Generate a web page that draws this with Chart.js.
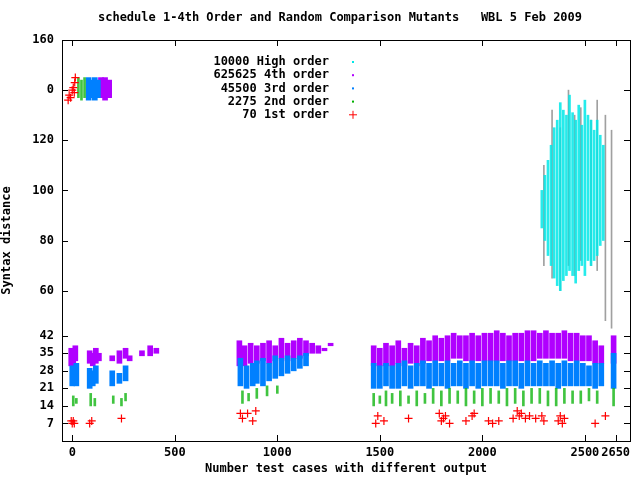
<!DOCTYPE html>
<html><head><meta charset="utf-8">
<script src="https://cdn.jsdelivr.net/npm/chart.js@4/dist/chart.umd.min.js"></script>
<style>html,body{margin:0;background:#fff}#c{width:640px;height:480px}</style>
</head><body><div id="c"><canvas id="cv" width="640" height="480"></canvas></div>
<script>
const title = "schedule 1-4th Order and Random Comparison Mutants   WBL 5 Feb 2009";
const xTicks = [0,500,1000,1500,2000,2500,2650];
const yTicks = [7,14,21,28,35,42,60,80,100,120,140,160];
const yTickLabels = {140:"0"};
const legendLabels = ["10000 High order","625625 4th order","45500 3rd order","2275 2nd order","70 1st order"];

// strips: x, low, high
const highX  = [2290,2305,2320,2335,2350,2365,2380,2395,2410,2425,2440,2455,2470,2485,2500,2515,2530,2545,2560,2575,2590];
const highLo = [85,80,74,70,65,62,60,64,66,68,66,63,68,70,66,72,70,72,74,78,80];
const highHi = [100,106,112,118,125,128,135,132,130,138,131,128,134,126,136,130,128,124,128,122,118];
const grayX  = [2300,2340,2380,2420,2450,2480,2530,2560,2600,2630];
const grayLo = [70,65,60,70,66,72,70,68,48,45];
const grayHi = [110,132,125,140,130,133,128,136,130,124];

const p4X  = [-5,5,15,85,100,115,130,195,230,260,280,340,380,410,815,840,870,900,930,960,990,1020,1050,1080,1110,1140,1170,1200,1230,1260,
  1470,1500,1530,1560,1590,1620,1650,1680,1710,1740,1770,1800,1830,1860,1890,1920,1950,1980,2010,2040,2070,2100,2130,2160,2190,2220,2250,2280,2310,2340,2370,2400,2430,2460,2490,2520,2550,2580,2640,140,160,180];
const p4Lo = [30,31,32,31,30,31,32,32,31,33,32,34,34,35,30,30,31,31,32,31,32,33,32,33,33,34,35,35,36,38,
  30,30,30,30,31,30,31,30,31,32,32,32,32,33,33,32,32,32,32,32,32,32,32,32,32,32,32,33,33,33,33,33,32,32,32,32,31,31,31,137,136,137];
const p4Hi = [37,36,38,36,35,37,35,34,36,37,34,36,38,37,40,38,39,38,39,40,38,41,39,40,41,40,39,38,37,39,
  38,37,39,38,40,37,39,38,41,40,42,41,42,43,42,42,43,42,43,43,44,43,42,43,43,44,44,43,44,43,43,44,43,43,42,42,40,38,42,145,145,144];
const p3X  = [0,10,20,85,100,115,195,230,260,820,850,880,900,930,960,990,1020,1050,1080,1110,1140,
  1470,1500,1530,1560,1590,1620,1650,1680,1710,1740,1770,1800,1830,1860,1890,1920,1950,1980,2010,2040,2070,2100,2130,2160,2190,2220,2250,2280,2310,2340,2370,2400,2430,2460,2490,2520,2550,2580,2640,80,95,110,125];
const p3Lo = [22,23,22,21,22,23,22,23,24,22,21,22,23,22,24,25,26,27,28,29,30,
  21,21,22,21,21,22,21,22,22,21,22,22,21,22,22,21,22,21,22,22,22,21,22,22,21,22,22,22,22,22,21,22,22,22,22,22,21,22,21,136,137,136,137];
const p3Hi = [30,29,31,29,28,30,28,27,30,33,30,31,32,33,31,34,33,34,33,34,35,
  31,30,31,30,31,32,30,31,32,31,32,31,32,31,32,31,32,31,32,32,32,31,32,32,31,32,31,32,31,32,31,32,31,32,31,30,31,31,35,145,144,145,144];
const p2X  = [5,20,90,110,200,240,260,830,860,900,950,1000,
  1470,1500,1530,1560,1600,1640,1680,1720,1760,1800,1840,1880,1920,1960,2000,2040,2080,2120,2160,2200,2240,2280,2320,2360,2400,2440,2480,2520,2560,2640,30,45,60];
const p2Lo = [14,15,14,14,15,14,16,15,16,17,18,19,
  14,15,14,15,14,15,14,15,15,14,15,15,14,15,14,15,15,14,15,14,15,15,14,14,15,15,15,16,15,14,137,136,137];
const p2Hi = [18,17,19,17,18,17,19,20,19,21,22,22,
  19,18,20,19,20,18,20,19,21,20,21,20,21,20,21,21,20,21,21,20,21,21,20,21,21,20,20,21,20,21,145,144,145];

const redX = [-20,-15,-8,0,5,10,12,15,-5,0,5,10,85,95,240,820,830,855,880,895,1480,1490,1520,1640,1790,1800,1810,1820,1840,1920,1950,1960,2030,2050,2080,2150,2170,2180,2190,2210,2230,2260,2290,2300,2370,2380,2390,2400,2550,2600];
const redY = [136,138,137,140,141,139,143,145,8,7,8,7,7,8,9,11,9,11,8,12,7,10,8,9,11,8,9,10,7,8,10,11,8,7,8,9,12,10,11,9,10,9,10,8,8,10,7,9,7,10];

function strips(xs,lo,hi){return xs.map((x,i)=>({x:x,y:[lo[i],hi[i]]}));}
const mono = "bold 12px 'DejaVu Sans Mono', 'Liberation Mono', monospace";
const colors = ["#00e8e8","#b000ff","#0080ff","#00b000","#ff0000"];

const deco = {
  id:'deco',
  afterDraw(ch){
    const c=ch.ctx, a=ch.chartArea, xs=ch.scales.x, ys=ch.scales.y;
    c.save();
    c.strokeStyle='#000'; c.lineWidth=1;
    c.strokeRect(a.left+0.5,a.top+0.5,a.right-a.left,a.bottom-a.top);
    c.beginPath();
    xTicks.forEach(v=>{const p=Math.round(xs.getPixelForValue(v))+0.5;
      c.moveTo(p,a.bottom);c.lineTo(p,a.bottom-6);c.moveTo(p,a.top);c.lineTo(p,a.top+6);});
    yTicks.forEach(v=>{const p=Math.round(ys.getPixelForValue(v))+0.5;
      c.moveTo(a.left,p);c.lineTo(a.left+6,p);c.moveTo(a.right,p);c.lineTo(a.right-6,p);});
    c.stroke();
    c.fillStyle='#000'; c.font=mono; c.textBaseline='middle';
    c.textAlign='center'; c.fillText(title,340,18);
    c.textAlign='right';
    legendLabels.forEach((t,i)=>{
      const y=62+i*13.2;
      c.fillText(t,329,y);
      c.fillStyle=colors[i]; c.strokeStyle=colors[i];
      if(i===4){c.beginPath();c.moveTo(349,y);c.lineTo(357,y);c.moveTo(353,y-4);c.lineTo(353,y+4);c.stroke();}
      else c.fillRect(352,y-1,2,2);
      c.fillStyle='#000';
    });
    c.restore();
  }
};

function bar(label,data,color,th){return {type:'bar',label,data,backgroundColor:color,barThickness:th,grouped:false};}
const tf = {family:"DejaVu Sans Mono",size:12,weight:'bold'};

new Chart(document.getElementById('cv'),{
  data:{datasets:[
    {type:'scatter',label:legendLabels[4],data:redX.map((x,i)=>({x,y:redY[i]})),pointStyle:'cross',radius:4,borderColor:'#ff0000',borderWidth:1.2,order:0},
    bar(legendLabels[3],strips(p2X,p2Lo,p2Hi),'rgba(0,176,0,0.75)',2),
    bar(legendLabels[2],strips(p3X,p3Lo,p3Hi),'#0080ff',5),
    bar(legendLabels[1],strips(p4X,p4Lo,p4Hi),'#b000ff',5),
    bar(legendLabels[0],strips(highX,highLo,highHi),'rgba(0,232,232,0.85)',2),
    bar('gray',strips(grayX,grayLo,grayHi),'#a0a0a0',1)
  ]},
  options:{
    responsive:false,animation:false,
    layout:{padding:{top:40,right:10,left:0,bottom:0}},
    plugins:{legend:{display:false},tooltip:{enabled:false},title:{display:false}},
    scales:{
      x:{type:'linear',offset:false,min:-50,max:2720,grid:{display:false,drawTicks:false,offset:false},border:{display:false},
        afterBuildTicks(s){s.ticks=xTicks.map(v=>({value:v}));},
        afterFit(s){s.height=39;},
        ticks:{color:'#000',font:tf,padding:5,maxRotation:0,autoSkip:false,callback:v=>String(v)},
        title:{display:true,text:'Number test cases with different output',color:'#000',font:tf,padding:{top:2}}},
      y:{type:'linear',min:0,max:160,grid:{display:false,drawTicks:false},border:{display:false},
        afterBuildTicks(s){s.ticks=yTicks.map(v=>({value:v}));},
        afterFit(s){s.width=62;},
        ticks:{color:'#000',font:tf,padding:8,autoSkip:false,
          callback:v=>yTickLabels[v]!==undefined?yTickLabels[v]:String(v)},
        title:{display:true,text:'Syntax distance',color:'#000',font:tf,padding:0}}
    }
  },
  plugins:[deco]
});
</script></body></html>
